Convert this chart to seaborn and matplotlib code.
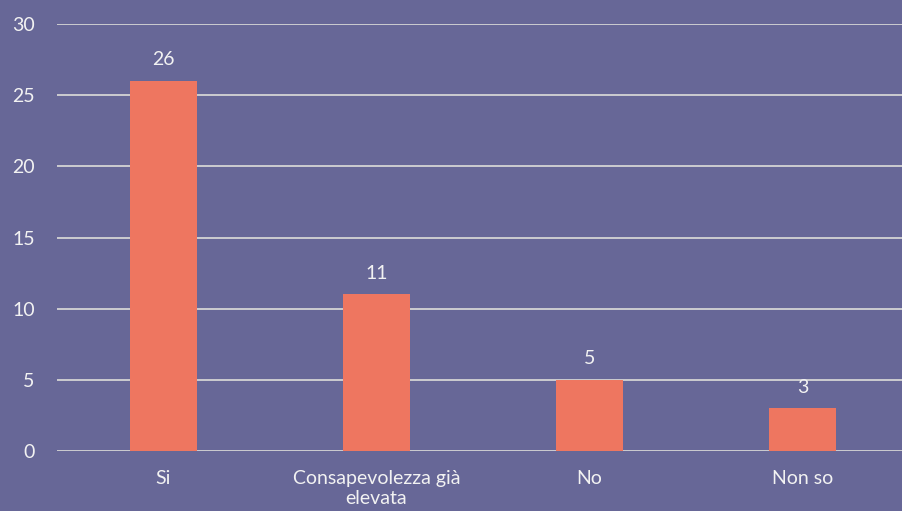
import matplotlib
matplotlib.use("Agg")
import matplotlib.pyplot as plt
import seaborn as sns
import pandas as pd

categories = ["Si", "Consapevolezza già\nelevata", "No", "Non so"]
values = [26, 11, 5, 3]

bg = "#676797"
bar_color = "#ee7660"
text_color = "#f2f2f2"

sns.set_style("white")
plt.rcParams['font.family'] = ['Lato', 'DejaVu Sans']

df = pd.DataFrame({"categoria": categories, "valore": values})

fig = plt.figure(figsize=(9.02, 5.11), dpi=100)
fig.patch.set_facecolor(bg)
ax = fig.add_axes([57 / 902, 60 / 511, 852 / 902, 427 / 511])
ax.set_facecolor(bg)

sns.barplot(data=df, x="categoria", y="valore", color=bar_color,
            saturation=1, width=0.315, linewidth=0, ax=ax, zorder=3)

ax.set_ylim(0, 30)
ax.set_xlim(-0.5, 3.5)
ax.set_yticks(range(0, 31, 5))
ax.yaxis.grid(True, color="#d4d4d4", linewidth=1.3, zorder=0)
ax.set_axisbelow(True)
for s in ax.spines.values():
    s.set_visible(False)

ax.tick_params(axis="both", length=0, colors=text_color, labelsize=14)
ax.tick_params(axis="y", pad=16)
ax.tick_params(axis="x", pad=14)
ax.set_xlabel("")
ax.set_ylabel("")
for lbl in ax.get_xticklabels():
    lbl.set_linespacing(1.15)

for i, v in enumerate(values):
    ax.annotate(str(v), (i, v), xytext=(0, 9), textcoords="offset points",
                ha="center", va="bottom", color=text_color, fontsize=14)

fig.savefig("out.png", dpi=100, facecolor=bg)
